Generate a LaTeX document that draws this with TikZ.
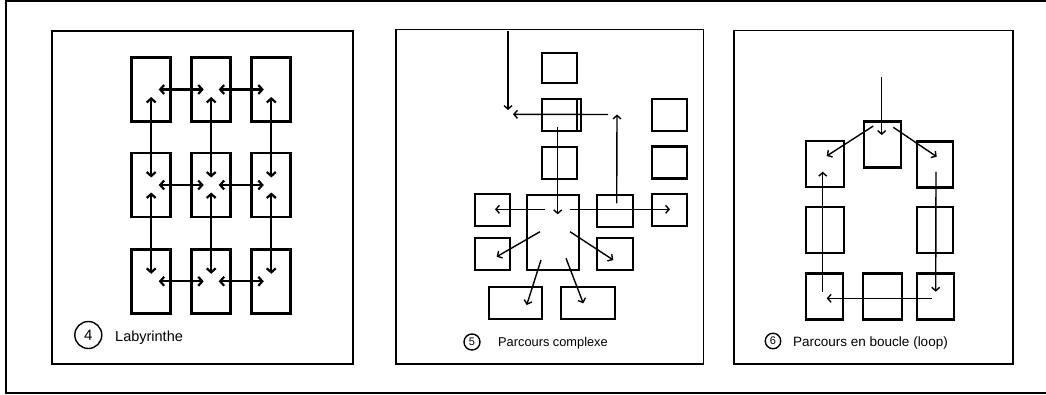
\documentclass[tikz,border=0pt]{standalone}
\usepackage{fontspec}
\setmainfont{Liberation Sans}
\usetikzlibrary{arrows.meta}

\begin{document}
\begin{tikzpicture}[x=1pt, y=-1pt,
  room/.style={draw, line width=2.8pt, inner sep=0pt, minimum width=39pt, minimum height=64pt},
  cell/.style={draw, line width=2.3pt, inner sep=0pt, minimum width=35pt, minimum height=32pt},
  loopcell/.style={cell, minimum width=37pt, minimum height=46pt},
  panel/.style={line width=1.7pt},
  arr/.style={-{Straight Barb[length=3.5pt,width=8pt]}, line width=1.4pt},
  twoway/.style={{Straight Barb[length=4pt,width=9pt]}-{Straight Barb[length=4pt,width=9pt]},
                 line width=2.2pt, shorten <=7.5pt, shorten >=7.5pt},
  num/.style={draw, circle, line width=1.4pt, inner sep=0pt, minimum size=16pt,
              font=\fontsize{11}{11}\selectfont},
  caption/.style={anchor=base west, inner sep=0pt, font=\fontsize{13}{15}\selectfont}
]
  \useasboundingbox (0,0) rectangle (1046,394);
  \draw[line width=2.4pt] (1046,1.2) -- (6.2,1.2) -- (6.2,393.2) -- (1046,393.2);

  % panels
  \draw[panel] (51.7,30.7) rectangle (353,364);
  \draw[panel] (396,29.5) rectangle (703.5,364);
  \draw[panel] (734,30.5) rectangle (1013,364);

  % 4: labyrinthe
  \node[room] (a11) at (151.2,89.5) {};
  \node[room] (a12) at (211.2,89.5) {};
  \node[room] (a13) at (271.3,89.5) {};
  \node[room] (a21) at (151.2,185) {};
  \node[room] (a22) at (211.2,185) {};
  \node[room] (a23) at (271.3,185) {};
  \node[room] (a31) at (151.2,281.3) {};
  \node[room] (a32) at (211.2,281.3) {};
  \node[room] (a33) at (271.3,281.3) {};

  \draw[twoway] (a11.center) -- (a12.center);
  \draw[twoway] (a12.center) -- (a13.center);
  \draw[twoway] (a21.center) -- (a22.center);
  \draw[twoway] (a22.center) -- (a23.center);
  \draw[twoway] (a31.center) -- (a32.center);
  \draw[twoway] (a32.center) -- (a33.center);
  \draw[twoway] (a11.center) -- (a21.center);
  \draw[twoway] (a21.center) -- (a31.center);
  \draw[twoway] (a12.center) -- (a22.center);
  \draw[twoway] (a22.center) -- (a32.center);
  \draw[twoway] (a13.center) -- (a23.center);
  \draw[twoway] (a23.center) -- (a33.center);

  \node[num, minimum size=27pt, font=\fontsize{15}{15}\selectfont] (n4) at (88.3,335) {4};
  \node[caption, font=\fontsize{14.5}{16}\selectfont] (t4) at (115,341.5) {Labyrinthe};

  % 5: parcours complexe
  \node[cell, minimum height=30pt] (top5) at (559.2,68) {};
  \node[cell, minimum width=39pt] (dup5b) at (561.2,115) {};
  \node[cell] (dup5) at (559.2,115) {};
  \node[cell] (mid5) at (559.2,163.3) {};
  \node[cell] (ne5) at (669.2,115) {};
  \node[cell] (e5) at (669.2,162.5) {};
  \node[cell, minimum width=52.6pt, minimum height=75pt] (hub5) at (553,232.5) {};
  \node[cell] (w5) at (492.5,210) {};
  \node[cell, minimum width=36pt] (rm5) at (615.3,210.8) {};
  \node[cell] (far5) at (669.2,210) {};
  \node[cell] (sw5) at (492.5,254.2) {};
  \node[cell, minimum width=36pt] (se5) at (615,254) {};
  \node[cell, minimum width=53pt] (bl5) at (515.5,303) {};
  \node[cell, minimum width=54pt] (br5) at (588,303) {};

  \coordinate (in5) at (508,30.5);
  \coordinate (drop5) at (508,110);
  \coordinate (turn5) at (617,114.5);

  \draw[arr] (in5) -- (drop5);
  \draw[arr] ([shift={(-9,0)}]turn5) -- ([shift={(5,4.3)}]drop5);
  \draw[arr] ([shift={(-1.5,11.7)}]dup5.center) -- ([shift={(4.7,-18.2)}]hub5.center);
  \draw[arr] ([shift={(-8,-23.2)}]hub5.center) -- ([shift={(2.5,-0.7)}]w5.center);
  \draw[arr] ([shift={(17,-23.2)}]hub5.center) -- ([shift={(0.8,-0.7)}]far5.center);
  \draw[arr] ([shift={(1.4,-7.5)}]rm5.center) -- (turn5);
  \draw[arr] ([shift={(-13,-0.8)}]hub5.center) -- ([shift={(4.2,2.5)}]sw5.center);
  \draw[arr] ([shift={(17,-0.8)}]hub5.center) -- ([shift={(-1.7,6)}]se5.center);
  \draw[arr] ([shift={(-12,27.5)}]hub5.center) -- ([shift={(11.2,2)}]bl5.center);
  \draw[arr] ([shift={(13,25.8)}]hub5.center) -- ([shift={(-4.7,0.3)}]br5.center);

  \node[num] (n5) at (472,342) {5};
  \node[caption, font=\fontsize{12.8}{15}\selectfont] (t5) at (498,346) {Parcours complexe};

  % 6: parcours en boucle
  \node[loopcell] (top6) at (882.3,144.5) {};
  \node[loopcell, minimum width=38pt] (nw6) at (825,164.2) {};
  \node[loopcell, minimum width=36pt] (ne6) at (935.3,164.5) {};
  \node[loopcell, minimum width=38pt] (w6) at (825,229.7) {};
  \node[loopcell, minimum width=36pt] (e6) at (935,229.7) {};
  \node[loopcell] (sw6) at (824.5,296.5) {};
  \node[loopcell, minimum width=39pt] (s6) at (882.5,296.5) {};
  \node[loopcell] (se6) at (935.5,296.5) {};

  \coordinate (in6) at (881.7,76.7);

  \draw[arr] (in6) -- ([shift={(-0.6,-9.5)}]top6.center);
  \draw[arr] ([shift={(-9,-18.5)}]top6.center) -- ([shift={(1.7,-8.2)}]nw6.center);
  \draw[arr] ([shift={(11,-17.2)}]top6.center) -- ([shift={(1.4,-7.8)}]ne6.center);
  \draw[arr] ([shift={(0.7,7.2)}]ne6.center) -- ([shift={(0.2,-4.8)}]se6.center);
  \draw[arr] ([shift={(-3.8,1.8)}]se6.center) -- ([shift={(2.2,1.8)}]sw6.center);
  \draw[arr] ([shift={(-1.8,-4.8)}]sw6.center) -- ([shift={(-2.3,7.5)}]nw6.center);

  \node[num, minimum size=15.5pt] (n6) at (773,341) {6};
  \node[caption, font=\fontsize{13.5}{15}\selectfont] (t6) at (793,346) {Parcours en boucle (loop)};
\end{tikzpicture}
\end{document}
